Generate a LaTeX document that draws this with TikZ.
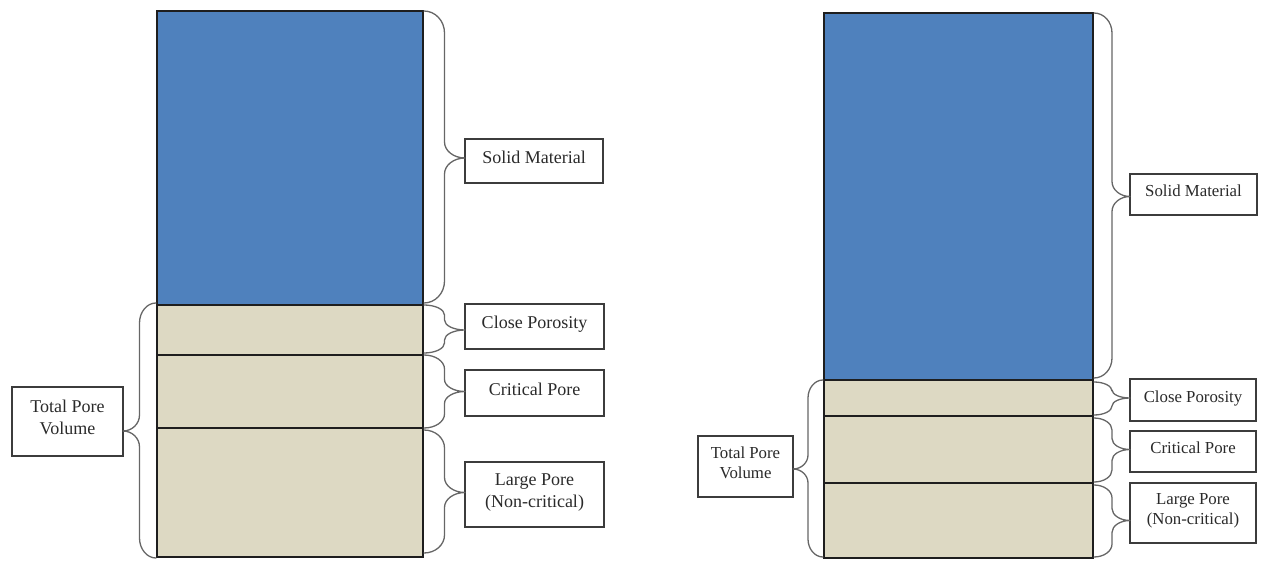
\documentclass[tikz,border=0pt]{standalone}
\usepackage{fontspec}
\setmainfont{Liberation Serif}
\usetikzlibrary{calc}
\definecolor{solidblue}{HTML}{4F81BD}
\definecolor{porebeige}{HTML}{DDD9C3}
\definecolor{bracegray}{HTML}{666666}
\definecolor{barline}{HTML}{1E1E1E}
\definecolor{boxline}{HTML}{3C3C3C}
\definecolor{txt}{HTML}{2A2A2A}

% curly brace: #1 start point, #2 end point, #3 tip point, #4 end radius, #5 tip radius
\newcommand{\curlybrace}[5]{%
  \draw[bracestyle] let \p1=(#1), \p2=(#2), \p3=(#3), \n1={(\x1+\x3)/2} in
    (\p1) .. controls ({\x1+0.552*(\n1-\x1)},{\y1}) and ({\n1},{\y1-0.448*#4}) .. ({\n1},{\y1-#4})
    -- ({\n1},{\y3+#5}) .. controls ({\n1},{\y3+0.448*#5}) and ({\x3+0.552*(\n1-\x3)},{\y3}) .. (\p3)
    .. controls ({\x3+0.552*(\n1-\x3)},{\y3}) and ({\n1},{\y3-0.448*#5}) .. ({\n1},{\y3-#5})
    -- ({\n1},{\y2+#4}) .. controls ({\n1},{\y2+0.448*#4}) and ({\x2+0.552*(\n1-\x2)},{\y2}) .. (\p2);
}

\begin{document}
\begin{tikzpicture}[x=1pt,y=-1pt,
  seg/.style={draw=barline, line width=1.4pt, inner sep=0pt, outer sep=0pt},
  lab/.style={draw=boxline, fill=white, line width=1.1pt, inner sep=0pt, outer sep=0pt,
              align=center, text=txt},
  bigfont/.style={font=\fontsize{18}{21.6}\selectfont, text depth=8pt},
  smallfont/.style={font=\fontsize{16.8}{20.2}\selectfont, text depth=7.5pt},
  bracestyle/.style={draw=bracegray, line width=1.3pt, line cap=round, line join=round}]
\useasboundingbox (0,0) rectangle (1261,561);

% ---------- left diagram ----------
\node[seg, fill=solidblue, minimum width=266pt, minimum height=294pt] (lsm) at (290,158) {};
\node[seg, fill=porebeige, minimum width=266pt, minimum height=50pt] (lcp) at (290,330) {};
\node[seg, fill=porebeige, minimum width=266pt, minimum height=73pt] (lcr) at (290,391.5) {};
\node[seg, fill=porebeige, minimum width=266pt, minimum height=129pt] (llp) at (290,492.5) {};

\node[lab, bigfont, minimum width=138pt, minimum height=44pt] (lsml) at (534,161) {Solid Material};
\node[lab, bigfont, minimum width=139pt, minimum height=45pt] (lcpl) at (534.5,326.5) {Close Porosity};
\node[lab, bigfont, minimum width=139pt, minimum height=46pt] (lcrl) at (534.5,393) {Critical Pore};
\node[lab, bigfont, minimum width=139pt, minimum height=65pt] (llpl) at (534.5,494.5) {Large Pore\\(Non-critical)};
\node[lab, bigfont, minimum width=111pt, minimum height=69pt] (ltpl) at (67.5,421.5) {Total Pore\\Volume};

\curlybrace{$(lsm.north east)+(1,0)$}{$(lsm.south east)+(1,-2)$}{lsml.west |- lsm.east}{22pt}{16pt}
\curlybrace{$(lcp.north east)+(1,0)$}{$(lcp.south east)+(1,-2)$}{lcpl.west |- lcp.east}{10pt}{10pt}
\curlybrace{$(lcr.north east)+(1,0)$}{$(lcr.south east)+(1,0)$}{lcrl.west |- lcr.east}{14pt}{12pt}
\curlybrace{$(llp.north east)+(1,2)$}{$(llp.south east)+(1,-4)$}{llpl.west |- llp.east}{18pt}{15pt}
\coordinate (lmid) at ($(lcp.north west)!0.5!(llp.south west)$);
\curlybrace{$(lcp.north west)+(-1,-2)$}{$(llp.south west)+(-1,1)$}{ltpl.east |- lmid}{20pt}{16pt}

% ---------- right diagram ----------
\node[seg, fill=solidblue, minimum width=269pt, minimum height=367pt] (rsm) at (958.5,196.5) {};
\node[seg, fill=porebeige, minimum width=269pt, minimum height=36pt] (rcp) at (958.5,398) {};
\node[seg, fill=porebeige, minimum width=269pt, minimum height=67pt] (rcr) at (958.5,449.5) {};
\node[seg, fill=porebeige, minimum width=269pt, minimum height=75pt] (rlp) at (958.5,520.5) {};

\node[lab, smallfont, minimum width=127pt, minimum height=41pt] (rsml) at (1193.5,194.5) {Solid Material};
\node[lab, smallfont, minimum width=126pt, minimum height=42pt] (rcpl) at (1193,400) {Close Porosity};
\node[lab, smallfont, minimum width=126pt, minimum height=41pt] (rcrl) at (1193,451.5) {Critical Pore};
\node[lab, smallfont, minimum width=126pt, minimum height=60pt] (rlpl) at (1193,513) {Large Pore\\(Non-critical)};
\node[lab, smallfont, minimum width=95pt, minimum height=61pt] (rtpl) at (745.5,466.5) {Total Pore\\Volume};

\curlybrace{$(rsm.north east)+(1,0)$}{$(rsm.south east)+(1,-2)$}{rsml.west |- rsm.east}{20pt}{15pt}
\curlybrace{$(rcp.north east)+(1,2)$}{$(rcp.south east)+(1,-1)$}{rcpl.west |- rcp.east}{9pt}{8pt}
\curlybrace{$(rcr.north east)+(1,2)$}{$(rcr.south east)+(1,-1)$}{rcrl.west |- rcr.east}{12pt}{11pt}
\curlybrace{$(rlp.north east)+(1,2)$}{$(rlp.south east)+(1,-1)$}{rlpl.west |- rlp.east}{13pt}{12pt}
\coordinate (rmid) at ($(rcp.north west)!0.5!(rlp.south west)$);
\curlybrace{$(rcp.north west)+(-1,0)$}{$(rlp.south west)+(-1,-1)$}{rtpl.east |- rmid}{18pt}{14pt}
\end{tikzpicture}
\end{document}
